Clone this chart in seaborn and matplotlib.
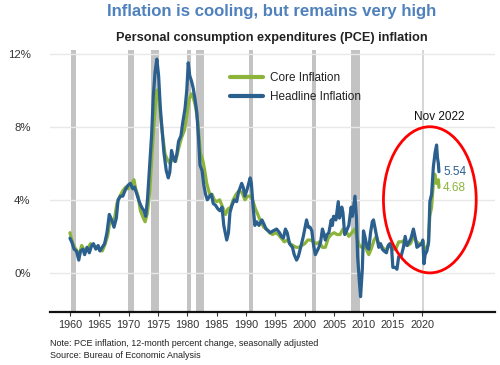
import numpy as np
import pandas as pd
import matplotlib
matplotlib.use("Agg")
import matplotlib.pyplot as plt
from matplotlib.patches import Ellipse
from matplotlib.lines import Line2D
import seaborn as sns

# ---------------- data ----------------
headline_years = [1960.0, 1960.3, 1960.7, 1961.1, 1961.5, 1961.8, 1962.2, 1962.5, 1962.9, 1963.3,
                  1963.7, 1964.0, 1964.4, 1964.8, 1965.1, 1965.5, 1965.9, 1966.3, 1966.7, 1967.1,
                  1967.5, 1967.9, 1968.2, 1968.6, 1969.0, 1969.5, 1969.9, 1970.3, 1970.7, 1971.0,
                  1971.4, 1971.8, 1972.2, 1972.6, 1972.9, 1973.2, 1973.6, 1973.9, 1974.2, 1974.5,
                  1974.8, 1975.1, 1975.4, 1975.7, 1976.0, 1976.4, 1976.75, 1977.0, 1977.3, 1977.6,
                  1977.9, 1978.2, 1978.5, 1978.9, 1979.2, 1979.6, 1979.9, 1980.15, 1980.4, 1980.7,
                  1981.0, 1981.3, 1981.6, 1981.9, 1982.15, 1982.5, 1982.8, 1983.1, 1983.4, 1983.8,
                  1984.1, 1984.4, 1984.8, 1985.2, 1985.55, 1985.9, 1986.2, 1986.7, 1987.0, 1987.25,
                  1987.6, 1988.0, 1988.4, 1988.7, 1989.25, 1989.5, 1989.8, 1990.2, 1990.7, 1990.9,
                  1991.2, 1991.5, 1991.8, 1992.2, 1992.7, 1993.0, 1993.4, 1993.8, 1994.1, 1994.6,
                  1995.2, 1995.7, 1996.0, 1996.35, 1996.7, 1997.0, 1997.4, 1997.9, 1998.2, 1998.6,
                  1998.9, 1999.3, 1999.75, 2000.3, 2000.6, 2000.9, 2001.2, 2001.5, 2001.8, 2002.1,
                  2002.4, 2002.7, 2003.0, 2003.2, 2003.5, 2003.8, 2004.1, 2004.5, 2004.7, 2004.9,
                  2005.3, 2005.7, 2005.9, 2006.0, 2006.3, 2006.5, 2006.8, 2007.1, 2007.5, 2007.9,
                  2008.1, 2008.3, 2008.55, 2008.8,
                  2009.0, 2009.3, 2009.5, 2009.8, 2010.0, 2010.3, 2010.6, 2010.9, 2011.2, 2011.5,
                  2011.7, 2012.0, 2012.3, 2012.6, 2012.9, 2013.2, 2013.5, 2013.9, 2014.2, 2014.5,
                  2014.8, 2015.0, 2015.4, 2015.7, 2016.0, 2016.4, 2016.8, 2017.1, 2017.4, 2017.8,
                  2018.1, 2018.5, 2018.9, 2019.1, 2019.5, 2019.9, 2020.1, 2020.3, 2020.5, 2020.8,
                  2021.1, 2021.3, 2021.6, 2021.9, 2022.2, 2022.45, 2022.6, 2022.75, 2022.85]
headline_vals = [1.9, 1.7, 1.3, 1.2, 0.7, 1.2, 1.3, 1.0, 1.4, 1.1,
                 1.5, 1.6, 1.3, 1.5, 1.2, 1.4, 1.6, 2.2, 3.2, 2.9,
                 2.5, 3.0, 4.0, 4.2, 4.2, 4.6, 4.8, 4.9, 4.6, 4.7,
                 4.3, 3.9, 3.6, 3.4, 3.1, 4.0, 6.0, 7.5, 9.7, 11.0,
                 11.7, 10.8, 9.0, 7.8, 6.6, 5.6, 5.2, 5.5, 6.7, 6.3,
                 6.1, 6.5, 7.2, 7.5, 8.2, 9.0, 10.0, 11.5, 10.8, 10.5,
                 10.1, 9.5, 8.8, 7.4, 5.9, 5.6, 4.8, 4.3, 4.0, 4.2,
                 4.3, 3.8, 3.7, 3.5, 3.4, 3.6, 2.6, 1.8, 2.2, 3.3,
                 3.7, 4.0, 3.9, 4.4, 4.9, 4.7, 4.2, 4.6, 5.2, 4.9,
                 3.6, 2.6, 2.8, 2.6, 2.9, 2.7, 2.4, 2.3, 2.2, 2.3,
                 2.4, 2.2, 2.0, 1.9, 2.4, 2.2, 1.6, 1.4, 1.0, 0.7,
                 0.9, 1.4, 2.0, 2.9, 2.5, 2.5, 2.3, 1.5, 1.0, 1.2,
                 1.4, 1.7, 2.4, 2.2, 1.8, 2.1, 2.2, 2.9, 2.6, 3.1,
                 2.9, 3.9, 3.0, 3.1, 3.6, 3.3, 2.1, 2.3, 2.6, 3.6,
                 3.1, 3.6, 4.2, 3.0,
                 0.9, -0.5, -1.3, 0.2, 2.3, 1.9, 1.4, 1.3, 2.2, 2.8,
                 2.9, 2.4, 1.9, 1.4, 1.6, 1.3, 1.2, 1.1, 1.5, 1.6,
                 1.3, 0.3, 0.3, 0.2, 0.9, 0.9, 1.4, 2.0, 1.5, 1.7,
                 1.9, 2.4, 1.8, 1.4, 1.5, 1.6, 1.8, 0.5, 1.0, 1.2,
                 1.7, 3.9, 4.3, 5.8, 6.6, 7.0, 6.3, 6.0, 5.54]

core_years = [1960.0, 1960.4, 1960.8, 1961.2, 1961.6, 1962.0, 1962.5, 1963.0, 1963.5, 1964.0,
              1964.5, 1965.0, 1965.5, 1965.9, 1966.4, 1966.8, 1967.2, 1967.6, 1968.0, 1968.5,
              1969.0, 1969.5, 1969.9, 1970.4, 1970.9, 1971.2, 1971.6, 1972.0, 1972.5, 1972.8,
              1973.2, 1973.6, 1974.0, 1974.4, 1974.8, 1975.1, 1975.4, 1975.8, 1976.2, 1976.6,
              1977.0, 1977.5, 1978.0, 1978.5, 1979.0, 1979.5, 1979.9, 1980.3, 1980.7, 1981.0,
              1981.4, 1981.8, 1982.2, 1982.6, 1982.9, 1983.3, 1983.8, 1984.2, 1984.6, 1985.0,
              1985.5, 1986.0, 1986.5, 1986.9, 1987.4, 1987.8, 1988.3, 1988.8, 1989.3, 1989.8,
              1990.3, 1990.8, 1991.2, 1991.6, 1992.0, 1992.5, 1993.0, 1993.5, 1994.0, 1994.5,
              1995.0, 1995.5, 1996.0, 1996.5, 1997.0, 1997.5, 1998.0, 1998.5, 1999.0, 1999.5,
              2000.0, 2000.5, 2001.0, 2001.5, 2002.0, 2002.5, 2003.0, 2003.5, 2004.0, 2004.5,
              2005.0, 2005.5, 2006.0, 2006.5, 2007.0, 2007.5, 2008.0, 2008.5, 2008.9, 2009.3,
              2009.7, 2010.2, 2010.6, 2010.9, 2011.3, 2011.8, 2012.2, 2012.6, 2013.0, 2013.5,
              2014.0, 2014.5, 2015.0, 2015.5, 2016.0, 2016.5, 2017.0, 2017.5, 2018.0, 2018.5,
              2019.0, 2019.5, 2019.9, 2020.2, 2020.35, 2020.7, 2021.0, 2021.3, 2021.6, 2021.9,
              2022.15, 2022.4, 2022.6, 2022.75, 2022.85]
core_vals = [2.2, 1.7, 1.4, 1.2, 1.0, 1.5, 1.2, 1.3, 1.6, 1.5,
             1.4, 1.3, 1.2, 1.5, 2.0, 2.8, 2.8, 3.0, 3.8, 4.2,
             4.5, 4.7, 4.6, 4.8, 5.1, 4.6, 4.2, 3.4, 3.0, 2.8,
             3.3, 4.5, 6.6, 8.5, 10.0, 10.0, 8.6, 7.5, 6.5, 6.2,
             6.0, 6.2, 6.1, 6.8, 7.4, 7.8, 8.6, 9.5, 9.8, 9.6,
             9.1, 8.2, 6.6, 6.2, 5.7, 4.9, 4.3, 4.3, 4.0, 3.9,
             4.0, 3.6, 3.2, 3.5, 3.6, 4.0, 4.3, 4.5, 4.4, 4.0,
             4.2, 4.2, 3.9, 3.5, 3.2, 2.8, 2.5, 2.4, 2.2, 2.1,
             2.2, 2.1, 1.9, 1.7, 1.8, 1.6, 1.5, 1.4, 1.4, 1.5,
             1.6, 1.8, 1.8, 1.7, 1.6, 1.7, 1.4, 1.4, 1.9, 2.1,
             2.2, 2.1, 2.1, 2.4, 2.3, 2.0, 2.2, 2.4, 1.9, 1.5,
             1.4, 1.5, 1.2, 1.0, 1.3, 1.8, 2.0, 1.6, 1.5, 1.3,
             1.3, 1.6, 1.3, 1.3, 1.7, 1.7, 1.8, 1.5, 1.6, 2.0,
             1.7, 1.6, 1.6, 1.7, 1.0, 1.4, 1.5, 3.1, 3.6, 4.9,
             5.4, 4.9, 4.9, 5.1, 4.68]

series_names = ["Core Inflation", "Headline Inflation"]
recessions = [(1960.2, 1961.1), (1969.9, 1970.9), (1973.85, 1975.2), (1980.0, 1980.55),
              (1981.5, 1982.85), (1990.5, 1991.2), (2001.15, 2001.9), (2007.9, 2009.45)]
covid_recession = (2020.05, 2020.3)
y_ticks = [0, 4, 8, 12]
y_tick_labels = ["0%", "4%", "8%", "12%"]
x_ticks = list(range(1960, 2021, 5))
latest_headline = "5.54"
latest_core = "4.68"

# ---------------- build frame ----------------
df = pd.concat([
    pd.DataFrame({"year": core_years, "value": core_vals, "series": series_names[0]}),
    pd.DataFrame({"year": headline_years, "value": headline_vals, "series": series_names[1]}),
], ignore_index=True)

GREEN = "#8CB43A"
BLUE = "#2B5F8E"

sns.set_theme(style="white")
plt.rcParams["font.family"] = ["Liberation Sans", "DejaVu Sans"]

fig = plt.figure(figsize=(5.0, 3.65), dpi=100)
ax = fig.add_axes([0.10, 0.1452, 0.89, 0.7178])

for a, b in recessions:
    ax.axvspan(a, b, color="#C3C3C3", lw=0, zorder=0)
ax.axvspan(*covid_recession, color="#D6D6D6", lw=0, zorder=0)

for yv in y_ticks:
    ax.axhline(yv, color="#E8E8E8", lw=1.0, zorder=0.5)

sns.lineplot(data=df, x="year", y="value", hue="series", hue_order=series_names,
             palette=[GREEN, BLUE], linewidth=2.3, ax=ax, legend=False, zorder=3)

ax.set_xlim(1956.6, 2032.4)
ax.set_ylim(-2.14, 12.2)
ax.set_yticks(y_ticks)
ax.set_yticklabels(y_tick_labels)
ax.set_xticks(x_ticks)
ax.set_xticklabels([str(x) for x in x_ticks])
ax.set_xlabel("")
ax.set_ylabel("")
for s in ["top", "right", "left"]:
    ax.spines[s].set_visible(False)
ax.spines["bottom"].set_color("#111111")
ax.spines["bottom"].set_linewidth(1.6)
ax.tick_params(axis="y", length=0, pad=14, labelsize=8.2, labelcolor="#333333")
ax.tick_params(axis="x", length=3, width=0.8, color="#333333", pad=3, labelsize=7.8,
               labelcolor="#333333", bottom=True, direction="out")
ax.grid(False)

# ellipse highlight
ell = Ellipse((2021.3, 4.0), width=15.8, height=8.0, fill=False, edgecolor="#FF0000",
              lw=2.0, zorder=4)
ax.add_patch(ell)

ax.text(2022.9, 8.55, "Nov 2022", ha="center", va="center", fontsize=8.5, color="#111111", zorder=5)
ax.text(2023.55, 5.53, latest_headline, ha="left", va="center", fontsize=8.5, color=BLUE, zorder=5)
ax.text(2023.55, 4.66, latest_core, ha="left", va="center", fontsize=8.5, color=GREEN, zorder=5)

# legend
handles = [Line2D([0], [0], color=GREEN, lw=3), Line2D([0], [0], color=BLUE, lw=3)]
leg = ax.legend(handles, series_names, loc="upper left", bbox_to_anchor=(0.405, 0.915),
                frameon=False, fontsize=8.5, handlelength=2.8, handletextpad=0.6,
                borderpad=0, borderaxespad=0, labelspacing=0.55)
for t in leg.get_texts():
    t.set_color("#222222")

fig.text(0.544, 0.968, "Inflation is cooling, but remains very high", ha="center", va="center",
         fontsize=12.1, fontweight="bold", color="#4F81BD")
fig.text(0.544, 0.896, "Personal consumption expenditures (PCE) inflation", ha="center",
         va="center", fontsize=9.2, fontweight="bold", color="#222222")
fig.text(0.10, 0.06, "Note: PCE inflation, 12-month percent change, seasonally adjusted",
         ha="left", va="center", fontsize=6.5, color="#222222")
fig.text(0.10, 0.027, "Source: Bureau of Economic Analysis", ha="left", va="center",
         fontsize=6.5, color="#222222")

fig.savefig("out.png", dpi=100)
